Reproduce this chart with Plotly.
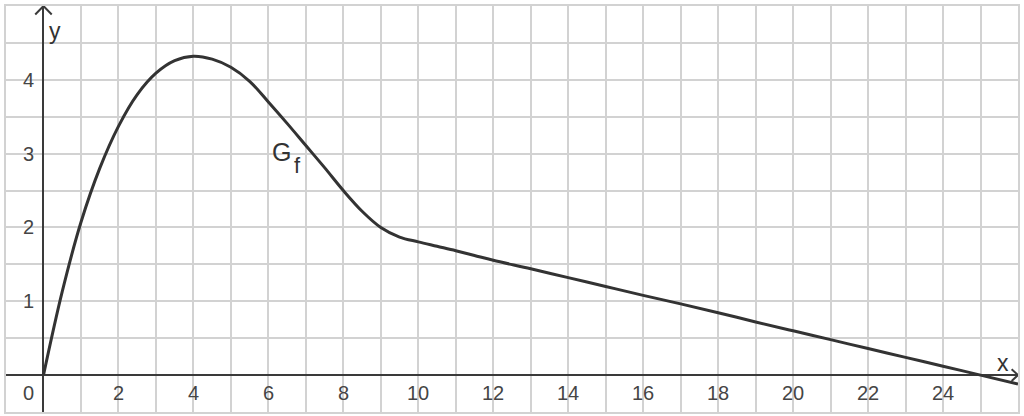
import plotly.graph_objects as go

# values
x_vals = [0, 0.5, 1, 1.5, 2, 2.5, 3, 3.5, 4, 4.5, 5, 5.5, 6, 6.5, 7, 7.5, 8, 8.5, 9, 9.5, 10, 10.5,
          11, 11.5, 12, 13, 14, 15, 16, 17, 18, 19, 20, 21, 22, 23, 24, 25, 26]
y_vals = [0, 1.13, 2.07, 2.80, 3.37, 3.80, 4.09, 4.26, 4.32, 4.28, 4.17, 3.98, 3.70, 3.41, 3.11, 2.81, 2.50, 2.22, 2.00, 1.87, 1.805, 1.745,
          1.685, 1.62, 1.555, 1.44, 1.32, 1.20, 1.08, 0.965, 0.845, 0.72, 0.60, 0.48, 0.36, 0.24, 0.12, 0.0, -0.12]

x_ticks = [2, 4, 6, 8, 10, 12, 14, 16, 18, 20, 22, 24]
y_ticks = [1, 2, 3, 4]

axis_col = "#3a3a3a"
text_col = "#454545"
font_name = "Liberation Sans, Arial, sans-serif"

fig = go.Figure()
fig.add_scatter(x=x_vals, y=y_vals, mode="lines",
                line=dict(color="#333333", width=3, shape="spline", smoothing=1.0),
                hoverinfo="skip", showlegend=False)

annotations = []
for t in x_ticks:
    annotations.append(dict(x=t, y=-0.24, text=str(t), showarrow=False,
                            font=dict(size=20, color=text_col, family=font_name)))
for t in y_ticks:
    annotations.append(dict(x=-0.4, y=t, text=str(t), showarrow=False,
                            font=dict(size=20, color=text_col, family=font_name)))
annotations.append(dict(x=-0.4, y=-0.24, text="0", showarrow=False,
                        font=dict(size=20, color=text_col, family=font_name)))
annotations.append(dict(x=0.3, y=4.66, text="y", showarrow=False,
                        font=dict(size=23, color="#333333", family=font_name)))
annotations.append(dict(x=25.6, y=0.17, text="x", showarrow=False,
                        font=dict(size=23, color="#333333", family=font_name)))
annotations.append(dict(x=6.35, y=3.02, text="G", showarrow=False,
                        font=dict(size=25, color="#333333", family=font_name)))
annotations.append(dict(x=6.78, y=2.84, text="f", showarrow=False,
                        font=dict(size=22, color="#333333", family=font_name)))

shapes = [
    # arrowhead on y axis
    dict(type="path", path="M -0.22,4.885 L 0,5 L 0.22,4.885", xref="x", yref="y",
         line=dict(color=axis_col, width=2)),
    # arrowhead on x axis
    dict(type="path", path="M 25.83,0.08 L 26,0 L 25.83,-0.08", xref="x", yref="y",
         line=dict(color=axis_col, width=2)),
]

fig.update_layout(
    width=1024, height=416,
    margin=dict(l=6, r=6, t=4, b=4),
    paper_bgcolor="white", plot_bgcolor="white",
    annotations=annotations, shapes=shapes,
    xaxis=dict(range=[-1, 26], dtick=1, tick0=0, showticklabels=False, ticks="",
               showgrid=True, gridcolor="#d2d2d2", gridwidth=1.5,
               zeroline=True, zerolinecolor=axis_col, zerolinewidth=2,
               showline=True, mirror=True, linecolor="#d2d2d2", linewidth=1.5,
               fixedrange=True),
    yaxis=dict(range=[-0.5, 5], dtick=0.5, tick0=0, showticklabels=False, ticks="",
               showgrid=True, gridcolor="#d2d2d2", gridwidth=1.5,
               zeroline=True, zerolinecolor=axis_col, zerolinewidth=2,
               showline=True, mirror=True, linecolor="#d2d2d2", linewidth=1.5,
               fixedrange=True),
)

# drop the default page margin so the figure sits at the window's corner
fig.write_html("out.html", config={"displayModeBar": False},
               post_script="document.body.style.margin='0';")
